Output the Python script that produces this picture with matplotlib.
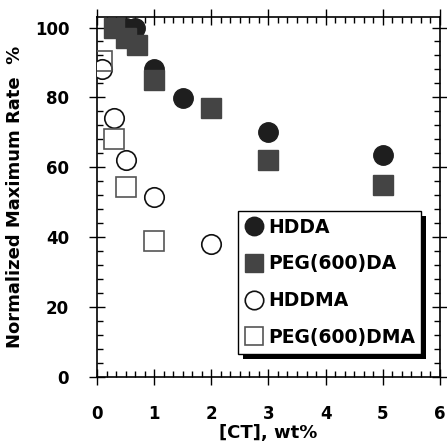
import matplotlib
matplotlib.use('Agg')
import matplotlib.pyplot as plt
from matplotlib.ticker import MultipleLocator
from matplotlib.patches import Rectangle

# data
hdda_x = [0.5, 0.67, 1.0, 1.5, 3.0, 5.0]
hdda_y = [100, 100, 88, 79.7, 70, 63.5]
pegda_x = [0.3, 0.5, 0.7, 1.0, 2.0, 3.0, 5.0]
pegda_y = [100, 97, 95, 85, 77, 62, 55]
hddma_x = [0.08, 0.3, 0.5, 1.0, 2.0]
hddma_y = [88, 74, 62, 51.5, 38]
pegdma_x = [0.08, 0.3, 0.5, 1.0]
pegdma_y = [90.5, 68, 54.5, 39]

plt.rcParams['font.family'] = 'DejaVu Sans'
plt.rcParams['font.weight'] = 'bold'

fig = plt.figure(figsize=(4.47, 4.48), dpi=100)
ax = fig.add_axes([0.217, 0.1585, 0.767, 0.8035])

ms = 14
ax.plot(hdda_x, hdda_y, 'o', ms=ms, color='#1e1e1e', mec='#1e1e1e', label='HDDA', zorder=3)
ax.plot(pegda_x, pegda_y, 's', ms=ms, color='#444444', mec='#444444', label='PEG(600)DA', zorder=4)
ax.plot(hddma_x, hddma_y, 'o', ms=ms, mfc='white', mec='#111111', mew=1.2, label='HDDMA', zorder=3)
ax.plot(pegdma_x, pegdma_y, 's', ms=ms, mfc='none', mec='#555555', mew=1.2, label='PEG(600)DMA', zorder=3)

ax.set_xlim(0, 6)
ax.set_ylim(0, 103)
ax.xaxis.set_major_locator(MultipleLocator(1))
ax.xaxis.set_minor_locator(MultipleLocator(1 / 6))
ax.yaxis.set_major_locator(MultipleLocator(20))
ax.yaxis.set_minor_locator(MultipleLocator(4))
ax.tick_params(which='major', direction='inout', length=12, width=1,
               top=True, right=True, labelsize=12, pad=14)
ax.tick_params(which='minor', direction='in', length=4, width=1, top=True, right=True)
for s in ax.spines.values():
    s.set_linewidth(1.2)

ax.set_xlabel('[CT], wt%', fontsize=13, fontweight='bold', labelpad=1)
ax.set_ylabel('Normalized Maximum Rate  %', fontsize=13, fontweight='bold', labelpad=8)

leg = ax.legend(loc='upper left', bbox_to_anchor=(0.411, 0.461), borderaxespad=0,
                fontsize=13.5, handletextpad=0.25, handlelength=1.0, labelspacing=0.95,
                borderpad=0.35, fancybox=False, framealpha=1, edgecolor='black',
                markerscale=0.95)
leg.get_frame().set_linewidth(1.0)
leg.set_zorder(10)

fig.canvas.draw()
bb = leg.get_window_extent()
sh = Rectangle((bb.x0 + 5, bb.y0 - 5), bb.width, bb.height, transform=None,
               facecolor='black', edgecolor='none', zorder=9)
ax.add_artist(sh)

fig.savefig('out.png', dpi=100)
